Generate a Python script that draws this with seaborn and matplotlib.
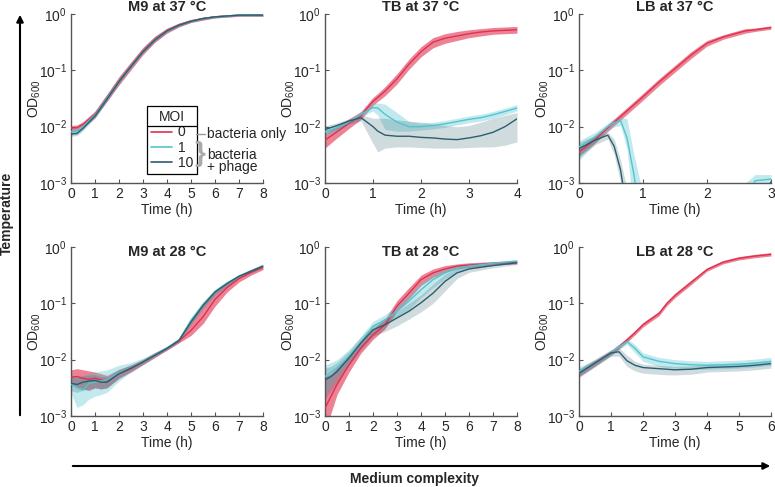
import numpy as np
import pandas as pd
import matplotlib
matplotlib.use("Agg")
import matplotlib.pyplot as plt
import seaborn as sns
from matplotlib.lines import Line2D
from matplotlib.patches import FancyArrowPatch
from matplotlib.ticker import NullLocator, LogFormatterSciNotation

sns.set_theme(style="ticks")
plt.rcParams['font.family'] = ['Liberation Sans', 'DejaVu Sans']
plt.rcParams['mathtext.fontset'] = 'custom'
plt.rcParams['mathtext.rm'] = 'Liberation Sans'
plt.rcParams['mathtext.it'] = 'Liberation Sans:italic'
plt.rcParams['mathtext.bf'] = 'Liberation Sans:bold'
plt.rcParams['axes.unicode_minus'] = False

# ---- data: log10(OD600), mean / lower / upper band, per MOI ----
MOIS = ['0', '1', '10']
COLORS = {'0': '#E0304E', '1': '#52C4CF', '10': '#2B5E6D'}
BAND_ALPHA = {'0': 0.6, '1': 0.35, '10': 0.22}

# M9 at 37 °C
m9_37_t = [0, 0.25, 0.5, 1, 1.5, 2, 2.5, 3, 3.5, 4, 4.5, 5, 5.5, 6, 7, 8]
m9_37_m0 = [-2.02, -2.02, -1.96, -1.78, -1.48, -1.18, -0.91, -0.65, -0.44, -0.29, -0.19, -0.12, -0.08, -0.05, -0.02, -0.02]
m9_37_m0_lo = [-2.07, -2.07, -2.01, -1.84, -1.55, -1.26, -0.99, -0.72, -0.50, -0.34, -0.23, -0.15, -0.11, -0.07, -0.04, -0.04]
m9_37_m0_hi = [-1.98, -1.97, -1.91, -1.72, -1.42, -1.11, -0.85, -0.59, -0.39, -0.25, -0.16, -0.10, -0.06, -0.03, -0.01, 0.00]
m9_37_m1 = [-2.09, -2.08, -2.00, -1.79, -1.49, -1.19, -0.92, -0.66, -0.45, -0.30, -0.20, -0.13, -0.08, -0.05, -0.02, -0.02]
m9_37_m1_lo = [-2.15, -2.14, -2.05, -1.84, -1.54, -1.23, -0.96, -0.69, -0.48, -0.32, -0.22, -0.15, -0.10, -0.07, -0.04, -0.04]
m9_37_m1_hi = [-2.04, -2.03, -1.95, -1.74, -1.44, -1.14, -0.88, -0.62, -0.42, -0.27, -0.18, -0.11, -0.06, -0.03, -0.01, -0.01]
m9_37_m10 = [-2.13, -2.12, -2.03, -1.81, -1.51, -1.20, -0.93, -0.67, -0.46, -0.30, -0.20, -0.13, -0.08, -0.05, -0.02, -0.02]
m9_37_m10_lo = [-2.17, -2.16, -2.07, -1.85, -1.55, -1.24, -0.96, -0.70, -0.49, -0.33, -0.22, -0.15, -0.10, -0.07, -0.04, -0.04]
m9_37_m10_hi = [-2.09, -2.08, -1.99, -1.77, -1.47, -1.16, -0.90, -0.64, -0.43, -0.28, -0.18, -0.11, -0.06, -0.03, -0.01, -0.01]

# TB at 37 °C
tb_37_t = [0, 0.25, 0.5, 0.75, 1, 1.1, 1.25, 1.5, 1.75, 2, 2.25, 2.5, 2.75, 3, 3.25, 3.5, 3.75, 4]
tb_37_m0 = [-2.24, -2.09, -1.94, -1.80, -1.55, -1.48, -1.37, -1.15, -0.89, -0.67, -0.50, -0.43, -0.39, -0.35, -0.32, -0.30, -0.29, -0.28]
tb_37_m0_lo = [-2.38, -2.20, -2.03, -1.87, -1.62, -1.55, -1.45, -1.24, -0.98, -0.76, -0.60, -0.52, -0.47, -0.42, -0.39, -0.36, -0.35, -0.34]
tb_37_m0_hi = [-2.12, -1.99, -1.86, -1.73, -1.48, -1.41, -1.29, -1.06, -0.80, -0.58, -0.42, -0.35, -0.31, -0.28, -0.26, -0.24, -0.23, -0.22]
tb_37_m1 = [-2.09, -2.02, -1.92, -1.78, -1.66, -1.67, -1.78, -1.92, -2.00, -2.00, -1.98, -1.95, -1.91, -1.87, -1.84, -1.79, -1.73, -1.67]
tb_37_m1_lo = [-2.16, -2.08, -1.97, -1.83, -1.72, -1.80, -2.05, -2.08, -2.08, -2.06, -2.04, -2.01, -1.97, -1.93, -1.90, -1.85, -1.79, -1.72]
tb_37_m1_hi = [-2.02, -1.96, -1.87, -1.73, -1.58, -1.58, -1.60, -1.75, -1.91, -1.94, -1.92, -1.89, -1.85, -1.81, -1.78, -1.73, -1.67, -1.61]
tb_37_m10 = [-2.05, -1.98, -1.90, -1.84, -2.00, -2.08, -2.15, -2.17, -2.17, -2.19, -2.20, -2.22, -2.23, -2.20, -2.16, -2.10, -2.00, -1.86]
tb_37_m10_lo = [-2.12, -2.04, -1.95, -1.90, -2.30, -2.45, -2.38, -2.36, -2.36, -2.37, -2.38, -2.38, -2.38, -2.37, -2.36, -2.36, -2.33, -2.27]
tb_37_m10_hi = [-1.99, -1.93, -1.86, -1.79, -1.85, -1.85, -1.85, -1.88, -1.90, -1.92, -1.95, -1.98, -2.00, -1.98, -1.92, -1.85, -1.80, -1.75]

# LB at 37 °C  (values below -3 lie under the axis floor)
lb_37_t = [0, 0.25, 0.45, 0.55, 0.65, 0.75, 0.85, 0.95, 1.25, 1.5, 1.75, 2, 2.25, 2.5, 2.6, 2.75, 3]
lb_37_m0 = [-2.45, -2.23, -2.02, -1.92, -1.82, -1.72, -1.62, -1.52, -1.21, -0.97, -0.73, -0.52, -0.41, -0.33, -0.30, -0.28, -0.24]
lb_37_m0_lo = [-2.52, -2.29, -2.08, -1.98, -1.88, -1.78, -1.68, -1.58, -1.27, -1.03, -0.79, -0.57, -0.45, -0.37, -0.34, -0.31, -0.27]
lb_37_m0_hi = [-2.38, -2.17, -1.96, -1.86, -1.76, -1.66, -1.56, -1.46, -1.15, -0.91, -0.67, -0.47, -0.37, -0.29, -0.26, -0.25, -0.21]
lb_37_m1 = [-2.36, -2.18, -2.00, -1.93, -1.89, -2.20, -2.80, -3.50, -3.50, -3.50, -3.50, -3.50, -3.50, -3.50, -3.30, -2.96, -2.93]
lb_37_m1_lo = [-2.60, -2.30, -2.08, -2.00, -1.98, -2.40, -3.50, -3.50, -3.50, -3.50, -3.50, -3.50, -3.50, -3.50, -3.50, -3.05, -3.05]
lb_37_m1_hi = [-2.25, -2.10, -1.94, -1.86, -1.84, -1.86, -2.45, -2.95, -3.50, -3.50, -3.50, -3.50, -3.50, -3.50, -3.00, -2.85, -2.85]
lb_37_m10 = [-2.39, -2.24, -2.15, -2.35, -2.77, -3.50, -3.50, -3.50, -3.50, -3.50, -3.50, -3.50, -3.50, -3.50, -3.50, -3.50, -2.98]
lb_37_m10_lo = [-2.55, -2.32, -2.22, -2.50, -3.00, -3.50, -3.50, -3.50, -3.50, -3.50, -3.50, -3.50, -3.50, -3.50, -3.50, -3.50, -3.50]
lb_37_m10_hi = [-2.28, -2.16, -2.10, -2.22, -2.60, -3.10, -3.50, -3.50, -3.50, -3.50, -3.50, -3.50, -3.50, -3.50, -3.50, -3.50, -2.95]

# M9 at 28 °C
m9_28_t = [0, 0.25, 0.5, 0.75, 1, 1.25, 1.5, 2, 2.5, 3, 3.5, 4, 4.5, 5, 5.5, 6, 6.5, 7, 7.5, 8]
m9_28_m0 = [-2.31, -2.30, -2.33, -2.35, -2.33, -2.36, -2.38, -2.25, -2.16, -2.04, -1.92, -1.80, -1.67, -1.48, -1.24, -0.93, -0.72, -0.56, -0.45, -0.36]
m9_28_m0_lo = [-2.45, -2.48, -2.52, -2.55, -2.50, -2.52, -2.50, -2.33, -2.22, -2.09, -1.96, -1.83, -1.70, -1.57, -1.36, -1.05, -0.80, -0.62, -0.50, -0.40]
m9_28_m0_hi = [-2.18, -2.16, -2.18, -2.20, -2.22, -2.25, -2.28, -2.17, -2.09, -1.99, -1.87, -1.77, -1.62, -1.30, -1.02, -0.80, -0.64, -0.50, -0.41, -0.32]
m9_28_m1 = [-2.43, -2.50, -2.54, -2.42, -2.40, -2.38, -2.36, -2.23, -2.14, -2.03, -1.91, -1.79, -1.65, -1.30, -1.02, -0.79, -0.64, -0.52, -0.42, -0.33]
m9_28_m1_lo = [-2.60, -2.85, -2.80, -2.70, -2.65, -2.62, -2.58, -2.38, -2.22, -2.08, -1.95, -1.82, -1.68, -1.36, -1.08, -0.84, -0.68, -0.55, -0.45, -0.36]
m9_28_m1_hi = [-2.28, -2.28, -2.30, -2.24, -2.22, -2.20, -2.18, -2.10, -2.05, -1.97, -1.87, -1.76, -1.62, -1.25, -0.97, -0.75, -0.61, -0.49, -0.40, -0.31]
m9_28_m10 = [-2.42, -2.44, -2.40, -2.38, -2.37, -2.40, -2.40, -2.25, -2.15, -2.04, -1.92, -1.80, -1.66, -1.33, -1.04, -0.80, -0.65, -0.52, -0.43, -0.34]
m9_28_m10_lo = [-2.55, -2.58, -2.54, -2.52, -2.50, -2.52, -2.50, -2.33, -2.20, -2.08, -1.95, -1.83, -1.69, -1.38, -1.09, -0.85, -0.69, -0.55, -0.46, -0.37]
m9_28_m10_hi = [-2.30, -2.32, -2.28, -2.27, -2.27, -2.30, -2.31, -2.18, -2.10, -2.00, -1.89, -1.77, -1.63, -1.28, -0.99, -0.76, -0.62, -0.49, -0.40, -0.31]

# TB at 28 °C
tb_28_t = [0, 0.25, 0.5, 1, 1.5, 2, 2.5, 3, 3.5, 4, 4.5, 5, 5.5, 6, 7, 8]
tb_28_m0 = [-2.86, -2.65, -2.44, -2.09, -1.79, -1.56, -1.38, -1.05, -0.82, -0.58, -0.46, -0.39, -0.34, -0.32, -0.29, -0.27]
tb_28_m0_lo = [-3.30, -2.95, -2.62, -2.22, -1.88, -1.64, -1.45, -1.14, -0.92, -0.68, -0.54, -0.45, -0.39, -0.36, -0.32, -0.30]
tb_28_m0_hi = [-2.30, -2.25, -2.15, -1.92, -1.68, -1.45, -1.28, -0.95, -0.72, -0.50, -0.39, -0.33, -0.30, -0.28, -0.26, -0.24]
tb_28_m1 = [-2.30, -2.22, -2.15, -1.94, -1.69, -1.41, -1.29, -1.14, -0.96, -0.76, -0.58, -0.46, -0.38, -0.34, -0.29, -0.25]
tb_28_m1_lo = [-2.60, -2.45, -2.30, -2.05, -1.78, -1.50, -1.38, -1.25, -1.10, -0.90, -0.72, -0.56, -0.45, -0.39, -0.32, -0.28]
tb_28_m1_hi = [-2.10, -2.05, -2.00, -1.82, -1.58, -1.32, -1.20, -1.04, -0.84, -0.64, -0.48, -0.38, -0.32, -0.29, -0.26, -0.22]
tb_28_m10 = [-2.36, -2.30, -2.21, -1.97, -1.70, -1.47, -1.38, -1.26, -1.14, -0.99, -0.82, -0.61, -0.46, -0.39, -0.33, -0.28]
tb_28_m10_lo = [-2.70, -2.55, -2.40, -2.10, -1.82, -1.58, -1.50, -1.40, -1.28, -1.15, -1.00, -0.78, -0.56, -0.45, -0.37, -0.31]
tb_28_m10_hi = [-2.15, -2.12, -2.05, -1.85, -1.60, -1.38, -1.28, -1.14, -1.00, -0.85, -0.66, -0.48, -0.38, -0.34, -0.30, -0.25]

# LB at 28 °C
lb_28_t = [0, 0.5, 1, 1.25, 1.5, 1.75, 2, 2.5, 2.75, 3, 3.5, 4, 4.5, 5, 5.5, 6]
lb_28_m0 = [-2.24, -2.06, -1.88, -1.77, -1.65, -1.52, -1.38, -1.18, -1.00, -0.86, -0.63, -0.40, -0.27, -0.20, -0.16, -0.13]
lb_28_m0_lo = [-2.30, -2.11, -1.92, -1.81, -1.69, -1.56, -1.42, -1.22, -1.04, -0.90, -0.67, -0.43, -0.30, -0.23, -0.19, -0.16]
lb_28_m0_hi = [-2.18, -2.01, -1.84, -1.73, -1.61, -1.48, -1.34, -1.14, -0.96, -0.82, -0.59, -0.37, -0.24, -0.17, -0.13, -0.10]
lb_28_m1 = [-2.21, -2.06, -1.88, -1.77, -1.68, -1.80, -1.95, -2.03, -2.05, -2.07, -2.09, -2.10, -2.09, -2.08, -2.06, -2.03]
lb_28_m1_lo = [-2.30, -2.12, -1.93, -1.82, -1.73, -1.88, -2.03, -2.12, -2.14, -2.15, -2.17, -2.17, -2.16, -2.15, -2.13, -2.10]
lb_28_m1_hi = [-2.13, -2.00, -1.83, -1.72, -1.63, -1.73, -1.88, -1.96, -1.98, -2.00, -2.02, -2.03, -2.02, -2.01, -1.99, -1.96]
lb_28_m10 = [-2.24, -2.06, -1.88, -1.86, -2.02, -2.10, -2.14, -2.16, -2.17, -2.18, -2.17, -2.14, -2.13, -2.12, -2.10, -2.07]
lb_28_m10_lo = [-2.32, -2.13, -1.94, -1.94, -2.12, -2.20, -2.24, -2.26, -2.27, -2.27, -2.26, -2.22, -2.21, -2.20, -2.18, -2.15]
lb_28_m10_hi = [-2.16, -1.99, -1.82, -1.79, -1.92, -2.03, -2.08, -2.10, -2.11, -2.12, -2.11, -2.08, -2.07, -2.06, -2.04, -2.01]

PANELS = [
    # title, t, xmax, [(mean, lo, hi) for MOI 0, 1, 10], row, col
    ("M9 at 37 °C", m9_37_t, 8, [(m9_37_m0, m9_37_m0_lo, m9_37_m0_hi), (m9_37_m1, m9_37_m1_lo, m9_37_m1_hi), (m9_37_m10, m9_37_m10_lo, m9_37_m10_hi)], 0, 0),
    ("TB at 37 °C", tb_37_t, 4, [(tb_37_m0, tb_37_m0_lo, tb_37_m0_hi), (tb_37_m1, tb_37_m1_lo, tb_37_m1_hi), (tb_37_m10, tb_37_m10_lo, tb_37_m10_hi)], 0, 1),
    ("LB at 37 °C", lb_37_t, 3, [(lb_37_m0, lb_37_m0_lo, lb_37_m0_hi), (lb_37_m1, lb_37_m1_lo, lb_37_m1_hi), (lb_37_m10, lb_37_m10_lo, lb_37_m10_hi)], 0, 2),
    ("M9 at 28 °C", m9_28_t, 8, [(m9_28_m0, m9_28_m0_lo, m9_28_m0_hi), (m9_28_m1, m9_28_m1_lo, m9_28_m1_hi), (m9_28_m10, m9_28_m10_lo, m9_28_m10_hi)], 1, 0),
    ("TB at 28 °C", tb_28_t, 8, [(tb_28_m0, tb_28_m0_lo, tb_28_m0_hi), (tb_28_m1, tb_28_m1_lo, tb_28_m1_hi), (tb_28_m10, tb_28_m10_lo, tb_28_m10_hi)], 1, 1),
    ("LB at 28 °C", lb_28_t, 6, [(lb_28_m0, lb_28_m0_lo, lb_28_m0_hi), (lb_28_m1, lb_28_m1_lo, lb_28_m1_hi), (lb_28_m10, lb_28_m10_lo, lb_28_m10_hi)], 1, 2),
]

W, H = 775, 487
AX_LEFT = [71, 325, 579]      # px
AX_BOTTOM = [183, 416]        # px from top
AX_W, AX_H = 192, 169
TITLE_Y = [1.041, 0.970]      # axes fraction

fig = plt.figure(figsize=(W / 100, H / 100), dpi=100)
FS = 10
SPINE = '#555555'


def px(x, y):
    return x / W, 1 - y / H


for title, t, xmax, series, row, col in PANELS:
    x0, y0 = px(AX_LEFT[col], AX_BOTTOM[row])
    ax = fig.add_axes([x0, y0, AX_W / W, AX_H / H])
    rows = []
    for moi, (mean, lo, hi) in zip(MOIS, series):
        ax.fill_between(t, 10 ** np.array(lo), 10 ** np.array(hi), color=COLORS[moi],
                        alpha=BAND_ALPHA[moi], linewidth=0, zorder=1)
        for ti, v in zip(t, mean):
            rows.append({'time': ti, 'od': 10 ** v, 'MOI': moi})
    df = pd.DataFrame(rows)
    sns.lineplot(data=df, x='time', y='od', hue='MOI', hue_order=MOIS, palette=COLORS,
                 estimator=None, sort=False, linewidth=1.0, legend=False, ax=ax, zorder=3)

    ax.set_yscale('log')
    ax.set_ylim(1e-3, 1)
    ax.set_yticks([1e-3, 1e-2, 1e-1, 1])
    ax.yaxis.set_major_formatter(LogFormatterSciNotation())
    ax.yaxis.set_minor_locator(NullLocator())
    ax.set_xlim(0, xmax)
    ax.set_xticks(range(xmax + 1))
    ax.tick_params(direction='in', length=3, width=0.8, color=SPINE, labelsize=FS, pad=3)
    for s in ['top', 'right']:
        ax.spines[s].set_visible(False)
    for s in ['left', 'bottom']:
        ax.spines[s].set_color(SPINE)
        ax.spines[s].set_linewidth(1.0)
    ax.set_xlabel('Time (h)', fontsize=FS, labelpad=1)
    ax.set_ylabel(r'OD$_{600}$', fontsize=FS)
    ax.yaxis.set_label_coords(-28 / AX_W, 0.5)
    ax.text(0.5, TITLE_Y[row], title, transform=ax.transAxes, ha='center', va='center',
            fontsize=10.5, fontweight='bold')

    if row == 0 and col == 0:
        handles = [Line2D([0], [0], color=COLORS[m], lw=1.2) for m in MOIS]
        leg = ax.legend(handles, MOIS, title='MOI', loc='upper left',
                        bbox_to_anchor=(0.396, 0.456), fontsize=FS, title_fontsize=FS,
                        frameon=True, fancybox=False, edgecolor='black', framealpha=1,
                        handlelength=1.5, handletextpad=0.4, labelspacing=0.1,
                        borderpad=0.3, borderaxespad=0)
        leg.get_frame().set_linewidth(0.9)

# legend title separator
fig.canvas.draw()
fb = leg.get_frame().get_window_extent()
tb = leg.get_title().get_window_extent()
inv = fig.transFigure.inverted()
(lx0, ly), (lx1, _) = inv.transform([(fb.x0, tb.y0 - 2), (fb.x1, tb.y0 - 2)])
fig.add_artist(Line2D([lx0, lx1], [ly, ly], color='black', lw=0.9, transform=fig.transFigure))

# annotations beside legend
fig.add_artist(Line2D(*zip(px(196, 134), px(205, 134)), color='#999999', lw=1.0,
                      transform=fig.transFigure))
fig.text(*px(207, 134), 'bacteria only', fontsize=FS, va='center', ha='left')
fig.text(*px(200, 154), '}', fontsize=20, fontweight='bold', color='#aaaaaa',
         va='center', ha='center')
fig.text(*px(207, 161), 'bacteria\n+ phage', fontsize=FS, va='center', ha='left', linespacing=0.9)

# axis arrows
fig.add_artist(FancyArrowPatch(px(20, 418), px(20, 12), transform=fig.transFigure,
                               arrowstyle='-|>', mutation_scale=10, lw=1.5, color='black'))
fig.add_artist(FancyArrowPatch(px(70, 466), px(773, 466), transform=fig.transFigure,
                               arrowstyle='-|>', mutation_scale=10, lw=1.5, color='black'))
fig.text(*px(7, 213), 'Temperature', rotation=90, fontsize=FS, fontweight='bold',
         ha='center', va='center')
fig.text(*px(415, 479), 'Medium complexity', fontsize=FS, fontweight='bold',
         ha='center', va='center')

fig.savefig('out.png', dpi=100)
